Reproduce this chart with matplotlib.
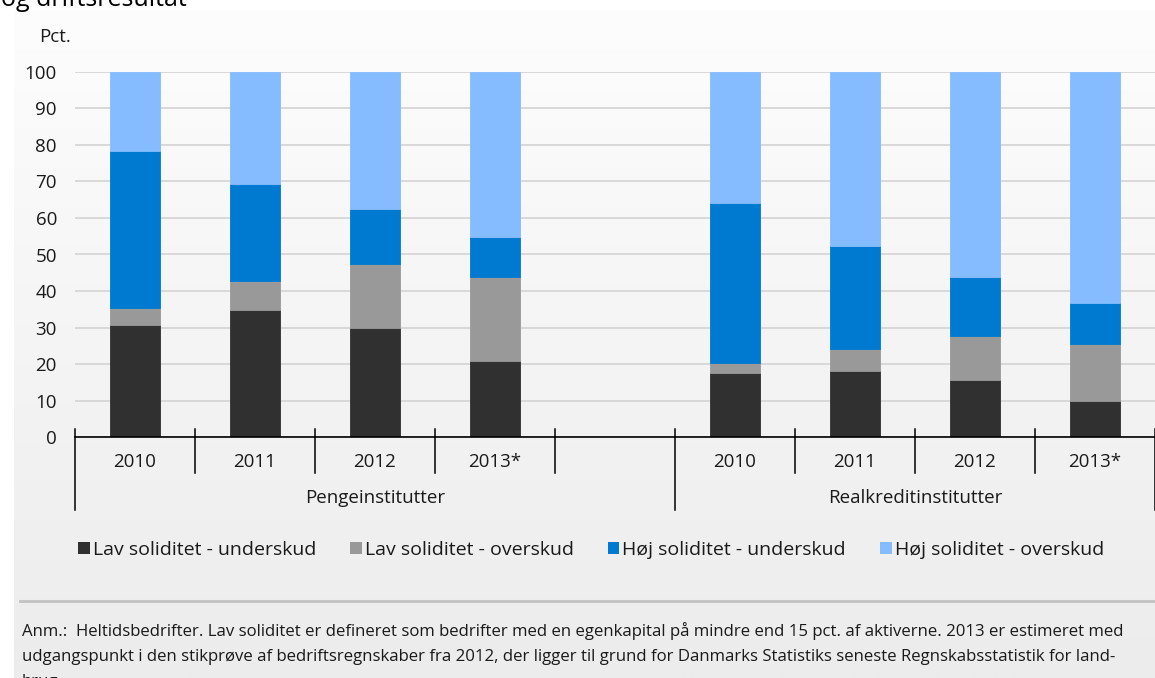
import numpy as np
import matplotlib
matplotlib.use("Agg")
import matplotlib.pyplot as plt
from matplotlib.patches import Patch
from matplotlib.lines import Line2D

plt.rcParams["font.family"] = ["Open Sans", "DejaVu Sans"]

years = ["2010", "2011", "2012", "2013*"]
groups = ["Pengeinstitutter", "Realkreditinstitutter"]
series = ["Lav soliditet - underskud", "Lav soliditet - overskud",
          "Høj soliditet - underskud", "Høj soliditet - overskud"]
colors = ["#303030", "#999999", "#0079d0", "#85bcff"]

# shares in pct., per group: one list per series, one value per year
penge = [
    [30.6, 34.7, 29.9, 20.9],
    [4.7, 8.1, 17.4, 22.9],
    [43.0, 26.4, 15.1, 11.1],
    [21.7, 30.8, 37.6, 45.1],
]
realkredit = [
    [17.7, 18.0, 15.8, 9.8],
    [2.5, 6.1, 12.0, 15.7],
    [44.0, 28.2, 16.1, 11.3],
    [35.8, 47.7, 56.1, 63.2],
]

FS = 13.5
W, H = 1155, 678
fig = plt.figure(figsize=(W / 100, H / 100), dpi=100)
fig.patch.set_facecolor("white")

# panel background with soft vertical gradient
bg = fig.add_axes([14 / W, 0, 1 - 14 / W, 1 - 10 / H], zorder=-5)
grad = np.linspace(0, 1, 256).reshape(-1, 1)
bg.imshow(grad, aspect="auto", cmap=matplotlib.colors.LinearSegmentedColormap.from_list(
    "g", ["#fdfdfd", "#ececec"]), extent=[0, 1, 1, 0])
bg.set_axis_off()

ax = fig.add_axes([75 / W, (H - 437.3) / H, 1080 / W, (437.3 - 71.7) / H])
ax.patch.set_alpha(0)

pos_penge = np.arange(len(years))
pos_real = np.arange(len(years)) + len(years) + 1
width = 0.42

for pos, data in [(pos_penge, penge), (pos_real, realkredit)]:
    bottom = np.zeros(len(years))
    for vals, c in zip(data, colors):
        ax.bar(pos, vals, width, bottom=bottom, color=c, edgecolor=c,
               linewidth=0.6, zorder=3)
        bottom += np.array(vals)

n_slots = 2 * len(years) + 1
ax.set_xlim(-0.5, n_slots - 0.5)
ax.set_ylim(0, 100)
ax.set_yticks(range(0, 101, 10))
ax.yaxis.grid(True, color="#d6d6d6", linewidth=1.3, zorder=0)
ax.set_axisbelow(True)
ax.tick_params(axis="y", length=0, pad=13, labelsize=FS, labelcolor="#1a1a1a")
ax.set_xticks([])
for s in ["top", "right", "left"]:
    ax.spines[s].set_visible(False)
ax.spines["bottom"].set_color("black")
ax.spines["bottom"].set_linewidth(1.2)
ax.spines["bottom"].set_zorder(4)

# category axis: separators, year labels and group labels
trans = ax.get_xaxis_transform()
px = 1 / (437.3 - 71.7)  # one pixel in axes fraction (vertical)
long_bounds = [-0.5, len(years) + 0.5, n_slots - 0.5]
for b in np.arange(-0.5, n_slots, 1.0):
    low = -73 * px if b in long_bounds else -36 * px
    ax.add_line(Line2D([b, b], [0.0 + 8 * px, low], transform=trans,
                       color="black", linewidth=1.1, clip_on=False))
for pos in (pos_penge, pos_real):
    for p, y in zip(pos, years):
        ax.text(p, -25 * px, y, transform=trans, ha="center", va="center",
                fontsize=FS, color="#1a1a1a")
ax.text(np.mean([-0.5, len(years) + 0.5]), -61 * px, groups[0], transform=trans,
        ha="center", va="center", fontsize=FS, color="#1a1a1a")
ax.text(np.mean([len(years) + 0.5, n_slots - 0.5]), -61 * px, groups[1],
        transform=trans, ha="center", va="center", fontsize=FS, color="#1a1a1a")

fig.text(39 / W, 1 - 37 / H, "Pct.", ha="left", va="center", fontsize=FS,
         color="#1a1a1a")
fig.text(1 / W, 1 - 6 / H, "og driftsresultat", ha="left", va="baseline",
         fontsize=18, color="black")

handles = [Patch(facecolor=c, edgecolor="none") for c in colors]
fig.legend(handles, series, loc="center", bbox_to_anchor=(591 / W, 1 - 550 / H),
           ncol=4, frameon=False, fontsize=14, handlelength=0.6,
           handleheight=0.6, handletextpad=0.15, columnspacing=1.75,
           labelcolor="#1a1a1a")

fig.add_artist(Line2D([20 / W, 1], [1 - 600.5 / H] * 2, color="#c2c2c2",
                      linewidth=2, transform=fig.transFigure))

note = ("Anm.:  Heltidsbedrifter. Lav soliditet er defineret som bedrifter med en egenkapital på mindre end 15 pct. af aktiverne. 2013 er estimeret med\n"
        "udgangspunkt i den stikprøve af bedriftsregnskaber fra 2012, der ligger til grund for Danmarks Statistiks seneste Regnskabsstatistik for land-\n"
        "brug.")
fig.text(22 / W, 1 - 622 / H, note, ha="left", va="top", fontsize=12.1,
         linespacing=1.74, color="#1a1a1a")

fig.savefig("out.png", dpi=100)
